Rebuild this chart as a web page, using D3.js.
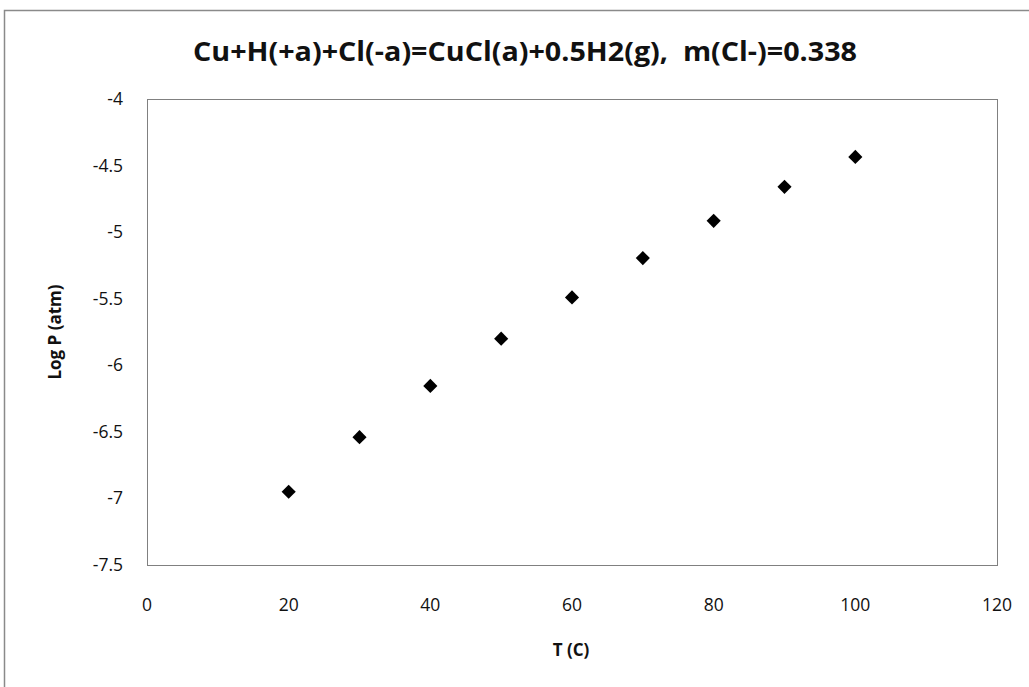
<!DOCTYPE html>
<html>
<head>
<meta charset="utf-8">
<script src="https://cdn.jsdelivr.net/npm/d3@7"></script>
<style>
  body { margin: 0; background: #fff; }
  svg text { font-family: "Open Sans", "Noto Sans", sans-serif; fill: #111; }
</style>
</head>
<body>
<svg id="chart" width="1029" height="687"></svg>
<script>
var temps = [20, 30, 40, 50, 60, 70, 80, 90, 100],
    logP = [-6.95, -6.54, -6.155, -5.80, -5.49, -5.195, -4.915, -4.66, -4.435],
    xTicks = [0, 20, 40, 60, 80, 100, 120],
    yTicks = [-7.5, -7, -6.5, -6, -5.5, -5, -4.5, -4];

var svg = d3.select('#chart'),
    plotL = 147, plotR = 997, plotT = 99, plotB = 565;

// outer chart frame (runs off the page right and bottom)
svg.append('rect')
  .attr('x', 4.5).attr('y', 10.5)
  .attr('width', 1100).attr('height', 800)
  .attr('fill', 'none').attr('stroke', '#8a8a8a').attr('stroke-width', 1.5);

var x = d3.scaleLinear().domain([0, 120]).range([plotL, plotR]),
    y = d3.scaleLinear().domain([-7.5, -4]).range([plotB, plotT]);

svg.append('rect')
  .attr('x', plotL + 0.5).attr('y', plotT + 0.5)
  .attr('width', plotR - plotL).attr('height', plotB - plotT)
  .attr('fill', 'none').attr('stroke', '#808080').attr('stroke-width', 1);

svg.selectAll('.xt').data(xTicks).enter()
  .append('text').attr('class', 'xt')
  .attr('x', function(d) { return x(d); })
  .attr('y', 611)
  .attr('text-anchor', 'middle')
  .attr('font-size', 17.5)
  .text(function(d) { return d; });

svg.selectAll('.yt').data(yTicks).enter()
  .append('text').attr('class', 'yt')
  .attr('x', 123)
  .attr('y', function(d) { return y(d) + 6; })
  .attr('text-anchor', 'end')
  .attr('font-size', 17.5)
  .text(function(d) { return d; });

svg.append('text')
  .attr('x', 193).attr('y', 61)
  .attr('font-size', 26).attr('font-weight', 'bold')
  .style('white-space', 'pre')
  .attr('textLength', 664).attr('lengthAdjust', 'spacingAndGlyphs')
  .text('Cu+H(+a)+Cl(-a)=CuCl(a)+0.5H2(g),  m(Cl-)=0.338');

svg.append('text')
  .attr('x', 571).attr('y', 656)
  .attr('text-anchor', 'middle')
  .attr('font-size', 17).attr('font-weight', 'bold')
  .text('T (C)');

svg.append('text')
  .attr('transform', 'translate(61,332) rotate(-90)')
  .attr('text-anchor', 'middle')
  .attr('font-size', 17).attr('font-weight', 'bold')
  .text('Log P (atm)');

var diamond = d3.symbol().type(d3.symbolSquare).size(100);
svg.selectAll('.pt').data(temps).enter()
  .append('path').attr('class', 'pt')
  .attr('d', diamond)
  .attr('fill', '#000')
  .attr('transform', function(d, i) {
    return 'translate(' + x(d) + ',' + y(logP[i]) + ') rotate(45)'; });
</script>
</body>
</html>
